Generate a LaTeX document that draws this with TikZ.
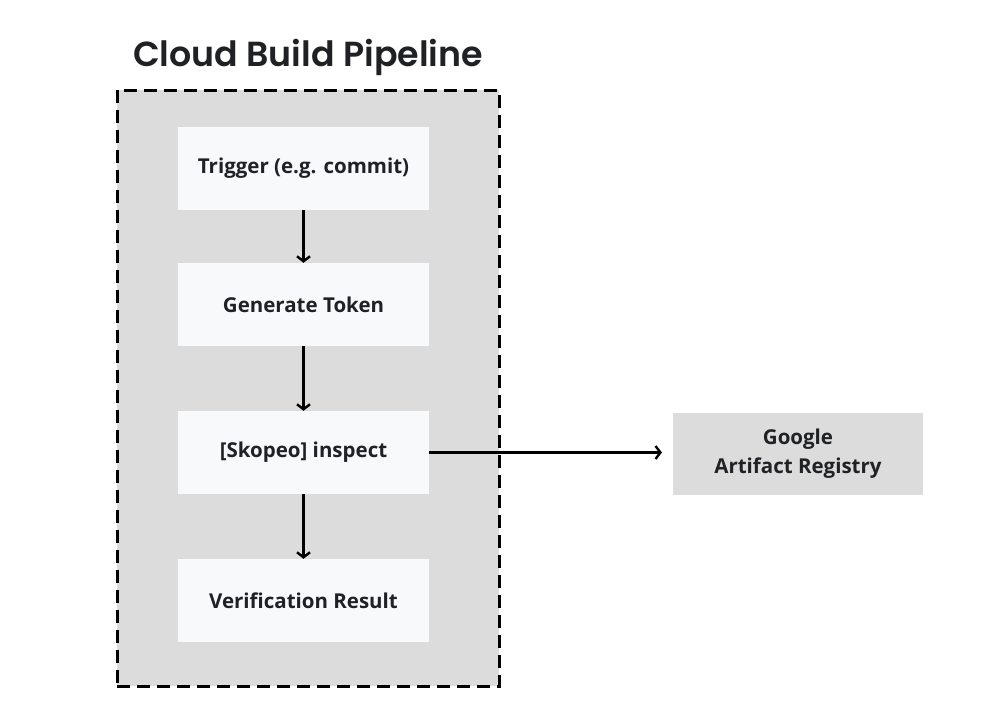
\documentclass[tikz,border=0pt]{standalone}
\usepackage{fontspec}
\setmainfont{Poppins}
\newfontfamily\titlefont{Poppins SemiBold}
\newfontfamily\bodyfont{Open Sans}
\usetikzlibrary{arrows.meta}
\definecolor{outerfill}{HTML}{DCDCDC}
\definecolor{innerfill}{HTML}{F8F9FA}
\definecolor{txt}{HTML}{202124}
\begin{document}
\begin{tikzpicture}[x=1pt,y=-1pt,
  stepbox/.style={fill=innerfill, draw=none, minimum width=251pt, minimum height=83pt, inner sep=0pt, font=\bodyfont\bfseries\fontsize{20.5}{29}\selectfont, text=txt, align=center},
  extbox/.style={fill=outerfill, draw=none, minimum width=250pt, minimum height=82pt, inner sep=0pt, font=\bodyfont\bfseries\fontsize{20.5}{29}\selectfont, text=txt, align=center},
  flow/.style={-{Straight Barb[length=5pt,width=13pt,line join=miter]}, line width=2.4pt, black}]
\useasboundingbox (0,0) rectangle (1000,726);
\fill[white] (0,0) rectangle (1000,726);
\node[fill=outerfill, draw=black, line width=3pt, dash pattern=on 13pt off 7pt, minimum width=382pt, minimum height=596pt, inner sep=0pt] (outer) at (308,388) {};
\node[font=\titlefont\fontsize{34.8}{40}\selectfont, text=txt] (title) at (308,57) {Cloud Build Pipeline};
\node[stepbox] (trig) at (303.5,168.5) {Trigger (e.g. commit)};
\node[stepbox] (gen) at (303.5,304.5) {Generate Token};
\node[stepbox] (sko) at (303.5,452.5) {[Skopeo] inspect};
\node[stepbox] (ver) at (303.5,600.5) {Verification Result};
\node[extbox] (gar) at (798,454) {Google\\Artifact Registry};
\draw[flow] (trig) -- (gen);
\draw[flow] (gen) -- (sko);
\draw[flow] (sko) -- (ver);
\coordinate (garin) at (662,452.5);
\draw[flow] (sko.east) -- (garin);
\end{tikzpicture}
\end{document}
